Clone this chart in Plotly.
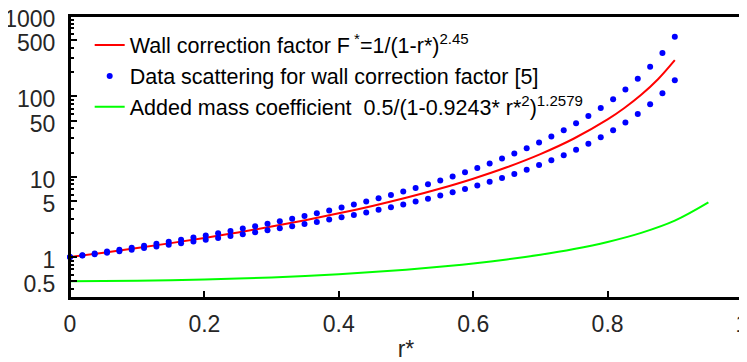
import plotly.graph_objects as go

# ---- data ----
x_dots = [0, 0.0184, 0.0367, 0.0551, 0.0735, 0.0918, 0.1102, 0.1286, 0.1469, 0.1653,
          0.1837, 0.2020, 0.2204, 0.2388, 0.2571, 0.2755, 0.2939, 0.3122, 0.3306, 0.3490,
          0.3673, 0.3857, 0.4041, 0.4224, 0.4408, 0.4592, 0.4776, 0.4959, 0.5143, 0.5327,
          0.5510, 0.5694, 0.5878, 0.6061, 0.6245, 0.6429, 0.6612, 0.6796, 0.6980, 0.7163,
          0.7347, 0.7531, 0.7714, 0.7898, 0.8082, 0.8265, 0.8449, 0.8633, 0.8816, 0.9000]
upper_dots = [1.000, 1.052, 1.108, 1.168, 1.233, 1.302, 1.377, 1.458, 1.546, 1.641,
              1.744, 1.856, 1.978, 2.112, 2.258, 2.418, 2.595, 2.789, 3.004, 3.242,
              3.506, 3.801, 4.130, 4.500, 4.917, 5.388, 5.923, 6.533, 7.233, 8.038,
              8.972, 10.06, 11.34, 12.84, 14.64, 16.80, 19.41, 22.61, 26.58, 31.57,
              37.92, 46.15, 57.03, 71.77, 92.21, 121.5, 165.1, 233.2, 346.2, 549.8]
lower_dots = [1.000, 1.042, 1.086, 1.133, 1.183, 1.236, 1.293, 1.354, 1.419, 1.488,
              1.563, 1.643, 1.729, 1.823, 1.923, 2.032, 2.150, 2.279, 2.418, 2.571,
              2.738, 2.921, 3.123, 3.346, 3.592, 3.866, 4.171, 4.513, 4.897, 5.331,
              5.822, 6.383, 7.025, 7.767, 8.627, 9.633, 10.82, 12.23, 13.93, 15.99,
              18.53, 21.69, 25.71, 30.92, 37.80, 47.17, 60.34, 79.62, 109.4, 158.5]

x_wall = [0, 0.05, 0.1, 0.15, 0.2, 0.25, 0.3, 0.35, 0.4, 0.45, 0.5, 0.55, 0.6, 0.65,
          0.7, 0.75, 0.8, 0.825, 0.85, 0.875, 0.9]
wall_factor = [1.000, 1.134, 1.2945, 1.489, 1.7276, 2.0235, 2.396, 2.873, 3.496, 4.326,
               5.464, 7.073, 9.440, 13.09, 19.10, 29.86, 51.57, 71.53, 104.4, 163.1, 281.8]

x_mass = [0, 0.05, 0.1, 0.15, 0.2, 0.25, 0.3, 0.35, 0.4, 0.45, 0.5, 0.55, 0.6, 0.65,
          0.7, 0.75, 0.8, 0.85, 0.9, 0.95]
added_mass = [0.500, 0.5015, 0.5059, 0.5134, 0.5243, 0.5389, 0.5577, 0.5816, 0.6115,
              0.6489, 0.6959, 0.7553, 0.8318, 0.9321, 1.0677, 1.2585, 1.5421, 2.0000,
              2.8407, 4.7928]

x_tickvals = [0, 0.2, 0.4, 0.6, 0.8, 1]
x_ticktext = ["0", "0.2", "0.4", "0.6", "0.8", "1"]
y_tickvals = [0.5, 1, 5, 10, 50, 100, 500, 1000]
y_ticktext = ["0.5", "1", "5", "10", "50", "100", "500", "1000"]
y_minor = [0.4, 0.6, 0.7, 0.8, 0.9, 2, 3, 4, 6, 7, 8, 9, 20, 30, 40, 60, 70, 80, 90,
           200, 300, 400, 600, 700, 800, 900]

FONT = "Arial, Liberation Sans, sans-serif"
AX = "#262626"
Y_RANGE = [-0.51, 3]

fig = go.Figure()
fig.add_trace(go.Scatter(
    x=x_wall, y=wall_factor, mode="lines", line=dict(color="#FF0000", width=2, shape="spline"),
    name="Wall correction factor F<sup> *</sup>=1/(1-r*)<sup>2.45</sup>"))
fig.add_trace(go.Scatter(
    x=x_dots, y=upper_dots, mode="markers", marker=dict(color="#0000FF", size=6),
    name="Data scattering for wall correction factor [5]", legendgroup="d", cliponaxis=False))
fig.add_trace(go.Scatter(
    x=x_dots, y=lower_dots, mode="markers", marker=dict(color="#0000FF", size=6),
    name="Data scattering for wall correction factor [5]", legendgroup="d",
    showlegend=False, cliponaxis=False))
fig.add_trace(go.Scatter(
    x=x_mass, y=added_mass, mode="lines", line=dict(color="#00FF00", width=2, shape="spline"),
    name="Added mass coefficient  0.5/(1-0.9243* r*<sup>2</sup>)<sup>1.2579</sup>"))
fig.add_trace(go.Scatter(x=[None], y=[None], yaxis="y2", showlegend=False, hoverinfo="skip"))

fig.update_layout(
    width=739, height=354,
    margin=dict(l=62, r=5, t=8, b=64),
    paper_bgcolor="white", plot_bgcolor="white",
    font=dict(family=FONT, size=23, color=AX),
    showlegend=True,
    legend=dict(x=0.0293, y=0.97, xanchor="left", yanchor="top",
                bgcolor="rgba(255,255,255,0)", borderwidth=0,
                font=dict(family=FONT, size=21.5, color="black"),
                tracegroupgap=0, itemwidth=30),
    xaxis=dict(
        range=[0, 1], tickmode="array", tickvals=x_tickvals, ticktext=x_ticktext,
        ticks="inside", ticklen=7, tickwidth=2, tickcolor="black",
        showline=True, linecolor="black", linewidth=2, mirror=True,
        showgrid=False, zeroline=False, automargin=False, ticklabelstandoff=4,
        ticklabeloverflow="allow",
        title=dict(text="r*", font=dict(size=23, family=FONT, color=AX), standoff=15),
        tickfont=dict(size=23, family=FONT, color=AX),
    ),
    yaxis=dict(
        type="log", range=Y_RANGE, tickmode="array", tickvals=y_tickvals, ticktext=y_ticktext,
        ticks="inside", ticklen=7, tickwidth=2, tickcolor="black",
        showline=True, linecolor="black", linewidth=2, mirror=True,
        showgrid=False, zeroline=False, automargin=False, ticklabelstandoff=8,
        ticklabeloverflow="allow", ticklabelshift=3,
        tickfont=dict(size=23, family=FONT, color=AX),
    ),
    yaxis2=dict(
        type="log", range=Y_RANGE, overlaying="y", side="left",
        tickmode="array", tickvals=y_minor, showticklabels=False,
        ticks="inside", ticklen=4, tickwidth=1.5, tickcolor="black",
        showline=False, showgrid=False, zeroline=False, automargin=False,
    ),
)
fig.add_shape(type="rect", xref="paper", yref="paper", x0=0, x1=1, y0=0, y1=1,
              line=dict(color="black", width=2), fillcolor="rgba(0,0,0,0)", layer="above")

fig.write_html("out.html")
